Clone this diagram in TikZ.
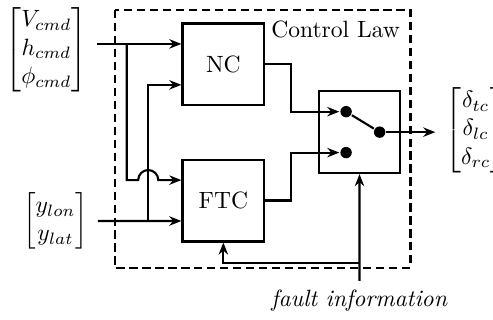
\documentclass[tikz,border=0pt]{standalone}
\usepackage{amsmath}
\usetikzlibrary{arrows.meta,calc}

\begin{document}
\begin{tikzpicture}[>={Stealth[length=1.8mm,width=1.4mm]}, line width=0.9pt, node distance=2.03cm]
    \tikzstyle{block}=[draw, rectangle, minimum size=1.22cm, inner sep=0pt]
    \tikzstyle{dot}=[circle, fill=black, minimum size=1.7mm, inner sep=0pt]
    \tikzstyle{vec}=[inner sep=0pt, outer sep=0.15cm]
    \useasboundingbox (-3.33,0.96) rectangle (4.02,-3.81);

    % Draw the controllers and the switch
    \node[block] (NC) {NC};
    \node[block, below of=NC] (FTC) {FTC};
    \node[block, right of=NC, yshift=-1.01cm] (Switch) {};
    \node[dot] (S1) at ([xshift=-2mm,yshift=3.05mm]Switch.center) {};
    \node[dot] (S2) at ([xshift=-2mm,yshift=-3.05mm]Switch.center) {};
    \node[dot] (S3) at ([xshift=3mm]Switch.center) {};

    % Draw the control law frame
    \coordinate (frame-nw) at (-1.62,0.81);
    \coordinate (frame-se) at (2.79,-3.03);
    \draw[dash pattern=on 3.5pt off 2pt] (frame-nw) rectangle (frame-se);
    \node[anchor=north east, inner sep=4pt] (law) at (frame-nw -| frame-se) {Control Law};

    % Draw the signal vectors
    \node[vec, anchor=east] (cmd) at (-1.88,0.22) {$\begin{bmatrix} V_{cmd}\\ h_{cmd}\\ \phi_{cmd} \end{bmatrix}$};
    \node[vec, anchor=east] (meas) at (-1.87,-2.335) {$\begin{bmatrix} y_{lon}\\ y_{lat} \end{bmatrix}$};
    \node[vec, anchor=west] (out) at (3.16,-0.98) {$\begin{bmatrix} \delta_{tc}\\ \delta_{lc}\\ \delta_{rc} \end{bmatrix}$};
    \node (fault) at (2.03,-3.52) {\textit{fault information}};

    \coordinate (NC-in1) at ([yshift=3.05mm]NC.west);
    \coordinate (NC-in2) at ([yshift=-3.05mm]NC.west);
    \coordinate (FTC-in1) at ([yshift=3.05mm]FTC.west);
    \coordinate (FTC-in2) at ([yshift=-3.05mm]FTC.west);
    \coordinate (split1) at ([xshift=4.4mm]cmd.east |- NC-in1);
    \coordinate (split2) at ([xshift=7.5mm]meas.east);
    \coordinate (split3) at ([yshift=-13.2mm]Switch.south);
    \coordinate (mid) at ($(NC.east)!0.5!(Switch.west)$);

    % Connect the signals
    \draw[->] (cmd.east |- NC-in1) -- (NC-in1);
    \draw[->] (meas.east) -- (FTC-in2);
    \draw[->] (split1) |- ($(FTC-in1 -| split2)+(-1.5mm,0)$) arc (180:0:1.5mm) -- (FTC-in1);
    \draw[->] (split2) |- (NC-in2);
    \draw[->] (NC.east) -| (mid |- S1) -- (S1);
    \draw[->] (FTC.east) -| (mid |- S2) -- (S2);
    \draw (S1) -- (S3);
    \draw[->] (S3) -- (S3 -| out.west);
    \draw[->] (fault.north) -- (Switch.south);
    \draw[->] (split3) -| (FTC.south);

\end{tikzpicture}
\end{document}
